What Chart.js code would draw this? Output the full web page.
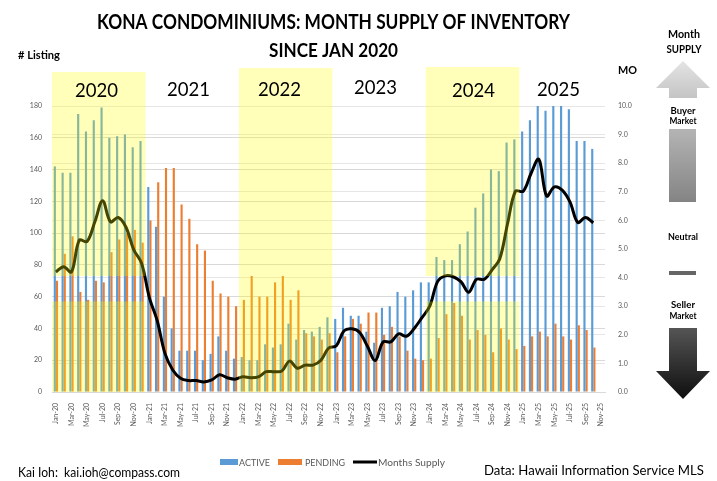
<!DOCTYPE html>
<html lang="en">
<head>
<meta charset="UTF-8">
<title>Kona Condominiums: Month Supply of Inventory</title>
<script src="https://cdn.jsdelivr.net/npm/chart.js/dist/chart.umd.min.js"></script>
<style>
  html, body { margin: 0; padding: 0; background: #fff; }
  #wrap { position: relative; width: 717px; height: 481px; }
</style>
</head>
<body>
<div id="wrap"><canvas id="supplyChart" width="717" height="481"></canvas></div>
<script>
// categories: Jan-20 .. Nov-25
const years = ['20', '21', '22', '23', '24', '25'];
const monthNames = ['Jan', 'Feb', 'Mar', 'Apr', 'May', 'Jun', 'Jul', 'Aug', 'Sep', 'Oct', 'Nov', 'Dec'];
const months = [];
years.forEach(y => monthNames.forEach(m => months.push(m + '-' + y)));
months.length = 71;

// # listings
const active = [
  142, 138, 138, 175, 164, 171, 179, 160, 161, 162, 154, 158,
  129, 104, 60, 40, 26, 26, 26, 20, 24, 35, 26, 21,
  22, 20, 20, 30, 28, 30, 43, 33, 39, 38, 41, 47,
  46, 53, 48, 48, 38, 31, 53, 54, 63, 60, 64, 69,
  69, 85, 83, 83, 93, 101, 116, 125, 140, 139, 157, 159,
  164, 171, 182, 177, 183, 181, 178, 158, 158, 153, null
];
const pending = [
  70, 87, 98, 63, 58, 70, 69, 88, 96, 100, 102, 94,
  108, 132, 141, 141, 118, 109, 93, 89, 70, 62, 60, 54,
  58, 73, 60, 60, 69, 73, 58, 64, 37, 35, 33, 37,
  25, 35, 46, 43, 50, 50, 36, 41, 35, 26, 21, 20,
  21, 34, 49, 56, 48, 33, 39, 36, 25, 40, 33, 27,
  29, 35, 38, 35, 43, 35, 33, 42, 39, 28, null
];
// months of supply (right axis)
const monthsSupply = [
  4.2, 4.38, 4.2, 5.31, 5.26, 5.95, 6.69, 5.95, 6.1, 5.76, 4.97, 4.5,
  3.3, 2.5, 1.35, 0.77, 0.48, 0.4, 0.4, 0.35, 0.42, 0.6, 0.5, 0.45,
  0.53, 0.5, 0.53, 0.71, 0.71, 0.73, 1.08, 0.83, 0.94, 0.94, 1.1, 1.53,
  1.62, 2.14, 2.21, 2.08, 1.6, 1.1, 1.75, 1.75, 2.03, 1.95, 2.22, 2.6,
  3.0, 3.86, 4.06, 4.03, 3.86, 3.49, 3.94, 3.94, 4.27, 4.67, 5.9, 7.02,
  7.02, 7.64, 8.14, 6.85, 7.17, 7.06, 6.65, 5.93, 6.1, 5.92, null
];

const yearLabels = ['2020', '2021', '2022', '2023', '2024', '2025'];
const shadedYears = [0, 2, 4]; // 2020, 2022, 2024

const BLUE = '#5B9BD5';
const ORANGE = '#ED7D31';
const GREY_TXT = '#595959';

// squeeze text into a given width (the original uses a narrow font)
function fitText(ctx, text, x, y, width) {
  const w = ctx.measureText(text).width;
  ctx.save();
  ctx.translate(x, y);
  ctx.scale(width / w, 1);
  ctx.fillText(text, 0, 0);
  ctx.restore();
}
function fitCenter(ctx, text, cx, y, width) {
  fitText(ctx, text, cx - width / 2, y, width);
}

const decorations = {
  id: 'decorations',
  afterDraw(chart) {
    const { ctx, scales: { x, y } } = chart;
    const bottom = y.getPixelForValue(0);
    const half = (x.getPixelForValue(1) - x.getPixelForValue(0)) / 2;

    // yellow year boxes laid over the bars
    ctx.save();
    ctx.fillStyle = 'rgba(255, 255, 0, 0.27)';
    const tops = [72, 68, 67];
    shadedYears.forEach((yr, k) => {
      const x0 = x.getPixelForValue(yr * 12) - half;
      const x1 = x.getPixelForValue(yr * 12 + 11) + half;
      if (yr === 1 || yr === 2) {
        ctx.fillRect(x0, tops[k], x1 - x0, bottom - tops[k]);
      } else {
        const g1 = y.getPixelForValue(73), g2 = y.getPixelForValue(57);
        ctx.fillRect(x0, tops[k], x1 - x0, g1 - tops[k]);
        ctx.fillRect(x0, g2, x1 - x0, bottom - g2);
      }
    });
    ctx.restore();

    ctx.save();
    ctx.fillStyle = '#000';
    ctx.textBaseline = 'alphabetic';

    // year labels
    ctx.font = '20px Lato';
    const yearPos = [[75, 97], [167, 96], [258, 96], [354, 94], [452, 97], [537, 96]];
    yearLabels.forEach((t, i) => fitText(ctx, t, yearPos[i][0], yearPos[i][1], 43));

    // titles
    ctx.font = 'bold 20px Lato';
    fitText(ctx, 'KONA CONDOMINIUMS: MONTH SUPPLY OF INVENTORY', 97, 29, 473);
    ctx.font = 'bold 19px Lato';
    fitText(ctx, 'SINCE JAN 2020', 269, 57, 129);
    ctx.font = 'bold 11px Lato';
    fitText(ctx, '# Listing', 18, 59, 42);
    fitText(ctx, 'MO', 618, 74, 19);

    // legend
    ctx.fillStyle = BLUE;
    ctx.fillRect(220, 459, 18, 6);
    ctx.fillStyle = ORANGE;
    ctx.fillRect(278, 459, 24, 6);
    ctx.strokeStyle = '#000';
    ctx.lineWidth = 3;
    ctx.beginPath();
    ctx.moveTo(353, 462);
    ctx.lineTo(377, 462);
    ctx.stroke();
    ctx.fillStyle = GREY_TXT;
    ctx.font = '10px Lato';
    fitText(ctx, 'ACTIVE', 239, 466, 31);
    fitText(ctx, 'PENDING', 305, 466, 40);
    fitText(ctx, 'Months Supply', 378, 466, 67);

    // footer
    ctx.fillStyle = '#000';
    ctx.font = '13px Lato';
    fitText(ctx, 'Kai Ioh:  kai.ioh@compass.com', 18, 477, 162);
    fitText(ctx, 'Data: Hawaii Information Service MLS', 484, 475, 220);

    // right-hand market graphic
    ctx.font = 'bold 11px Lato';
    fitCenter(ctx, 'Month', 684, 38, 32);
    fitCenter(ctx, 'SUPPLY', 684, 53, 35);
    ctx.font = 'bold 9px Lato';
    fitCenter(ctx, 'Buyer', 683, 114, 25);
    fitCenter(ctx, 'Market', 683, 124, 27);
    fitCenter(ctx, 'Neutral', 683, 240, 30);
    fitCenter(ctx, 'Seller', 683, 308, 24);
    fitCenter(ctx, 'Market', 683, 319, 27);

    let g = ctx.createLinearGradient(0, 61, 0, 98);
    g.addColorStop(0, '#e4e4e4');
    g.addColorStop(1, '#c4c4c4');
    ctx.fillStyle = g;
    ctx.beginPath();
    ctx.moveTo(683, 61);
    ctx.lineTo(710, 88);
    ctx.lineTo(697, 88);
    ctx.lineTo(697, 98);
    ctx.lineTo(669, 98);
    ctx.lineTo(669, 88);
    ctx.lineTo(656, 88);
    ctx.closePath();
    ctx.fill();

    g = ctx.createLinearGradient(0, 129, 0, 202);
    g.addColorStop(0, '#b4b4b4');
    g.addColorStop(1, '#848484');
    ctx.fillStyle = g;
    ctx.fillRect(669, 129, 27, 73);

    ctx.fillStyle = '#666';
    ctx.fillRect(669, 271, 27, 4);

    g = ctx.createLinearGradient(0, 328, 0, 400);
    g.addColorStop(0, '#555');
    g.addColorStop(1, '#0d0d0d');
    ctx.fillStyle = g;
    ctx.beginPath();
    ctx.moveTo(669, 328);
    ctx.lineTo(697, 328);
    ctx.lineTo(697, 371);
    ctx.lineTo(710, 371);
    ctx.lineTo(683, 399);
    ctx.lineTo(656, 371);
    ctx.lineTo(669, 371);
    ctx.closePath();
    ctx.fill();
    ctx.restore();
  }
};

const chart = new Chart(document.getElementById('supplyChart'), {
  data: {
    labels: months,
    datasets: [
      {
        type: 'line',
        label: 'Months Supply',
        data: monthsSupply,
        yAxisID: 'y1',
        borderColor: '#000',
        borderWidth: 3,
        pointRadius: 0,
        tension: 0.35,
        order: 0
      },
      {
        type: 'bar',
        label: 'ACTIVE',
        data: active,
        yAxisID: 'y',
        backgroundColor: BLUE,
        categoryPercentage: 0.55,
        barPercentage: 1.0,
        order: 1
      },
      {
        type: 'bar',
        label: 'PENDING',
        data: pending,
        yAxisID: 'y',
        backgroundColor: ORANGE,
        categoryPercentage: 0.55,
        barPercentage: 1.0,
        order: 1
      }
    ]
  },
  options: {
    responsive: false,
    animation: false,
    layout: { padding: { left: 0, right: 72, top: 106, bottom: 49 } },
    plugins: {
      legend: { display: false },
      tooltip: { enabled: false }
    },
    scales: {
      x: {
        grid: { display: false },
        border: { display: true, color: '#d9d9d9' },
        afterFit(scale) { scale.height = 40; },
        ticks: {
          autoSkip: false,
          minRotation: 90,
          maxRotation: 90,
          padding: 3,
          color: GREY_TXT,
          font: { family: 'Lato', size: 7 },
          callback(v, i) { return i % 2 === 0 ? months[i] : ''; }
        }
      },
      y: {
        position: 'left',
        min: 0,
        max: 180,
        afterFit(scale) { scale.width = 52; },
        grid: { color: '#d9d9d9', drawTicks: false },
        border: { display: false },
        ticks: {
          stepSize: 20,
          padding: 10,
          color: GREY_TXT,
          font: { family: 'Lato', size: 7 }
        }
      },
      y1: {
        position: 'right',
        min: 0,
        max: 10,
        afterFit(scale) { scale.width = 40; },
        grid: { color: '#e6e6e6', drawTicks: false },
        border: { display: false },
        ticks: {
          stepSize: 1,
          padding: 13,
          color: GREY_TXT,
          font: { family: 'Lato', size: 7 },
          callback(v) { return v.toFixed(1); }
        }
      }
    }
  },
  plugins: [decorations]
});
</script>
</body>
</html>
